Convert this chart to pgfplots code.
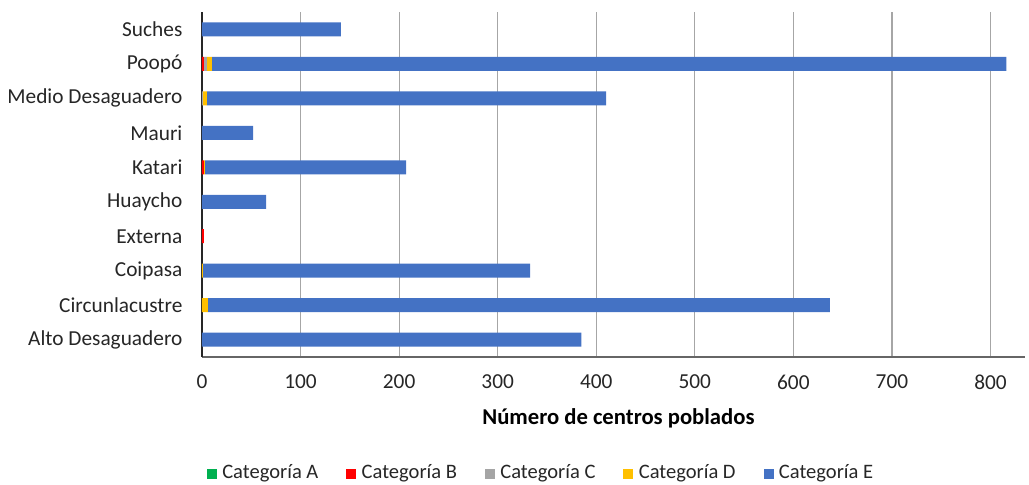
\documentclass[border=0pt]{standalone}
\usepackage{fontspec}
\setmainfont{Carlito}
\usepackage{pgfplots}
\pgfplotsset{compat=1.18}

\definecolor{catA}{HTML}{00B050}
\definecolor{catB}{HTML}{FF0000}
\definecolor{catC}{HTML}{A5A5A5}
\definecolor{catD}{HTML}{FFC000}
\definecolor{catE}{HTML}{4472C4}
\definecolor{txt}{HTML}{262626}
\definecolor{gridc}{HTML}{A6A6A6}

\begin{document}
\begin{tikzpicture}
\fontsize{15.4pt}{18pt}\selectfont
% page frame: 1px = 0.75pt
\useasboundingbox (-151.5pt,-96pt) rectangle (620.25pt,267.75pt);
\begin{axis}[
  at={(0,0)}, anchor=south west,
  scale only axis,
  width=617.25pt, height=258.75pt,
  xbar stacked,
  bar width=10.5pt,
  xmin=0, xmax=835,
  ymin=-0.5, ymax=9.5,
  xtick={0,100,...,800},
  ytick={0,...,9},
  yticklabels={Alto Desaguadero,Circunlacustre,Coipasa,Externa,Huaycho,Katari,Mauri,Medio Desaguadero,Poopó,Suches},
  xmajorgrids,
  grid style={gridc, line width=0.9pt},
  axis x line*=bottom,
  axis y line*=left,
  x axis line style={black!60, line width=1pt, -},
  y axis line style={black!85, line width=1.2pt, -},
  major tick length=0pt,
  tick style={draw=none},
  xticklabel style={anchor=center, yshift=-18.75pt, inner sep=0pt, text=txt, font=\fontsize{16pt}{18pt}\selectfont},
  yticklabel style={anchor=east, xshift=-14.5pt, inner sep=0pt, text=txt, font=\fontsize{16pt}{18pt}\selectfont},
  /pgf/number format/assume math mode=true,
  xlabel={\bfseries Número de centros poblados},
  xlabel style={at={(axis description cs:0.506,-0.177)}, anchor=center, text=black, font=\fontsize{17pt}{20pt}\selectfont},
  legend columns=5,
  legend style={at={(axis description cs:0.414,-0.336)}, anchor=center, draw=none, fill=none,
    font=\fontsize{15.4pt}{18pt}\selectfont, text=txt,
    nodes={inner xsep=4pt, inner ysep=1pt},
    /tikz/every even column/.append style={column sep=17pt}},
  legend image code/.code={\fill[#1] (0pt,-4.5pt) rectangle (7.5pt,3pt);},
  clip=false,
]
% Categoría A
\addplot[fill=catA, draw=none] coordinates {
 (0,0) (0,1) (0,2) (0,3) (0,4) (0,5) (0,6) (0,7) (0,8) (0,9)};
% Categoría B
\addplot[fill=catB, draw=none] coordinates {
 (0,0) (0,1) (0,2) (2,3) (0,4) (2,5) (0,6) (0,7) (2,8) (0,9)};
% Categoría C
\addplot[fill=catC, draw=none] coordinates {
 (0,0) (0,1) (0,2) (0,3) (0,4) (0,5) (0,6) (1,7) (3,8) (0,9)};
% Categoría D
\addplot[fill=catD, draw=none] coordinates {
 (0,0) (6,1) (1,2) (0,3) (0,4) (1,5) (0,6) (4,7) (5,8) (0,9)};
% Categoría E
\addplot[fill=catE, draw=none] coordinates {
 (385,0) (631,1) (332,2) (0,3) (65,4) (204,5) (52,6) (405,7) (806,8) (141,9)};
\legend{Categoría A,Categoría B,Categoría C,Categoría D,Categoría E}
\end{axis}
\end{tikzpicture}
\end{document}
